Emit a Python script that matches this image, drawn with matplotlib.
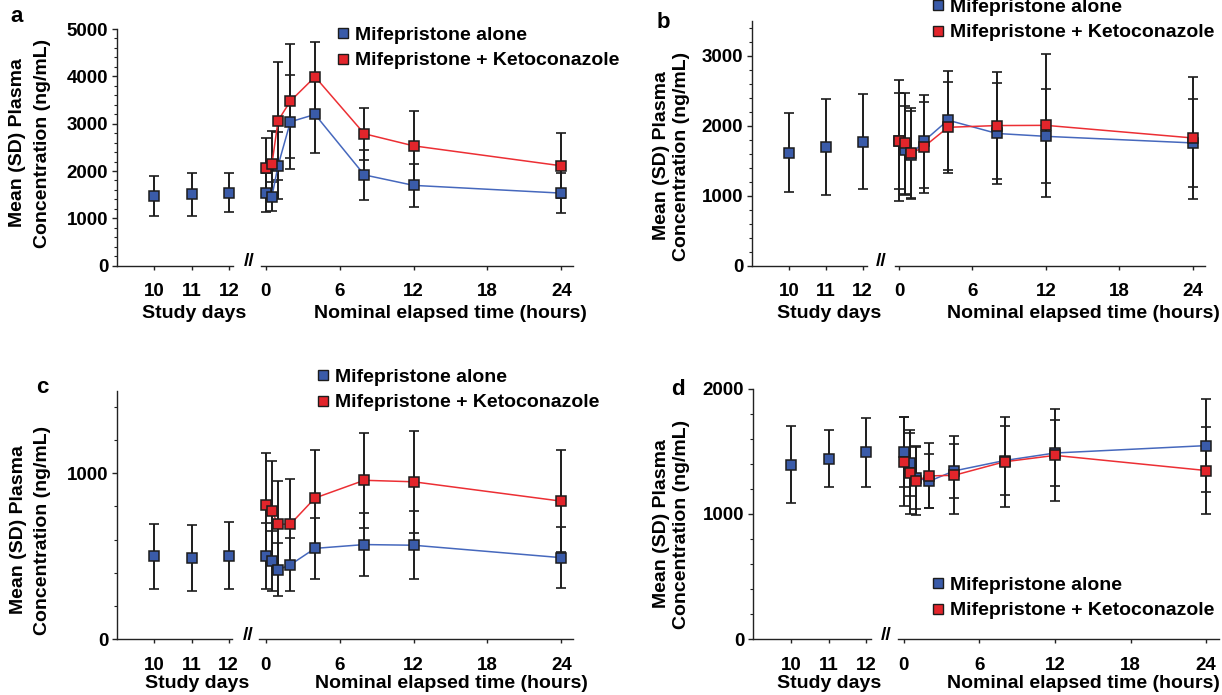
import matplotlib
matplotlib.use('Agg')
import matplotlib.pyplot as plt
from matplotlib.lines import Line2D
from matplotlib.ticker import MultipleLocator

plt.rcParams['font.family'] = ['Liberation Sans', 'DejaVu Sans']
plt.rcParams['font.weight'] = 'bold'

W, H = 1222, 695

# ---------------- data ----------------
study_days = [10, 11, 12]
hours = [0, 0.5, 1, 2, 4, 8, 12, 24]
day_ticks = [10, 11, 12]
hour_ticks = [0, 6, 12, 18, 24]
series_labels = ['Mifepristone alone', 'Mifepristone + Ketoconazole']
panel_letters = ['a', 'b', 'c', 'd']
ylabel_lines = ['Mean (SD) Plasma', 'Concentration (ng/mL)']
xlabel_days = 'Study days'
xlabel_hours = 'Nominal elapsed time (hours)'

# panel a
a_days_mean = [1480, 1505, 1545]
a_days_sd = [425, 445, 405]
a_alone_mean = [1545, 1460, 2115, 3040, 3195, 1918, 1697, 1533]
a_alone_sd = [410, 300, 700, 990, 810, 535, 458, 430]
a_keto_mean = [2070, 2140, 3065, 3477, 3990, 2787, 2532, 2110]
a_keto_sd = [625, 695, 1245, 1210, 730, 552, 740, 690]
a_yticks = [0, 1000, 2000, 3000, 4000, 5000]

# panel b
b_days_mean = [1616, 1692, 1773]
b_days_sd = [560, 685, 680]
b_alone_mean = [1781, 1651, 1585, 1775, 2079, 1889, 1848, 1754]
b_alone_sd = [685, 635, 620, 660, 705, 715, 670, 630]
b_keto_mean = [1788, 1747, 1608, 1694, 1977, 2002, 2005, 1825]
b_keto_sd = [865, 720, 650, 650, 650, 760, 1025, 870]
b_yticks = [0, 1000, 2000, 3000]

# panel c
c_days_mean = [499, 491, 503]
c_days_sd = [195, 200, 202]
c_alone_mean = [503, 469, 418, 448, 547, 570, 566, 491]
c_alone_sd = [200, 180, 161, 160, 183, 190, 206, 186]
c_keto_mean = [810, 770, 693, 693, 851, 958, 949, 832]
c_keto_sd = [311, 307, 261, 271, 290, 288, 308, 307]
c_yticks = [0, 1000]

# panel d
d_days_mean = [1391, 1439, 1490]
d_days_sd = [307, 227, 275]
d_alone_mean = [1490, 1404, 1289, 1259, 1342, 1425, 1485, 1544]
d_alone_sd = [280, 265, 250, 215, 215, 275, 267, 370]
d_keto_mean = [1417, 1323, 1264, 1302, 1307, 1415, 1466, 1345]
d_keto_sd = [357, 325, 270, 260, 310, 360, 367, 347]
d_yticks = [0, 1000, 2000]

# ---------------- style ----------------
BLUE = '#3a5ba9'
BLUE_LINE = '#4668bd'
RED = '#e3252b'
RED_LINE = '#ec2f34'
EDGE = '#1c1c1c'
AXC = '#222222'
FS = 14
TFS = 13.5

fig = plt.figure(figsize=(W / 100, H / 100), dpi=100)


def px_axes(x0, x1, ytop, ybot):
    return fig.add_axes([x0 / W, 1 - ybot / H, (x1 - x0) / W, (ybot - ytop) / H])


def ftext(x, y, s, **kw):
    return fig.text(x / W, 1 - y / H, s, **kw)


def draw_series(ax, x, mean, sd, face, line_color, connect, z):
    ax.errorbar(x, mean, yerr=sd, fmt='none', ecolor=EDGE, elinewidth=1.4,
                capsize=3.4, capthick=1.2, zorder=2, clip_on=False)
    if connect:
        ax.plot(x, mean, '-', color=line_color, lw=1.1, zorder=3, clip_on=False)
    ax.plot(x, mean, 's', mfc=face, mec=EDGE, ms=6.8, mew=1.1, zorder=z,
            clip_on=False, ls='none')


def panel(L, R, ytop, ybot, ylim, yticks, xlimL, xlimR,
          days_mean, days_sd, alone_mean, alone_sd, keto_mean, keto_sd):
    axL = px_axes(L[0], L[1], ytop, ybot)
    axR = px_axes(R[0], R[1], ytop, ybot)
    for ax in (axL, axR):
        ax.set_ylim(*ylim)
        ax.patch.set_alpha(0)
        for s in ('top', 'right'):
            ax.spines[s].set_visible(False)
        for s in ('left', 'bottom'):
            ax.spines[s].set_linewidth(1.0)
            ax.spines[s].set_color(AXC)
        ax.tick_params(axis='x', which='major', direction='out', length=3.2,
                       width=1.0, color=AXC, labelsize=TFS, pad=9.5)
    axR.spines['left'].set_visible(False)
    axR.tick_params(axis='y', which='both', left=False, labelleft=False)
    axL.set_yticks(yticks)
    axL.yaxis.set_minor_locator(MultipleLocator(200))
    axL.tick_params(axis='y', which='major', direction='out', length=3.5,
                    width=1.0, color=AXC, labelsize=TFS, pad=3)
    axL.tick_params(axis='y', which='minor', direction='out', length=2.0,
                    width=0.8, color=AXC)
    axL.set_xticks(day_ticks)
    axL.set_xlim(*xlimL)
    axR.set_xticks(hour_ticks)
    axR.set_xlim(*xlimR)

    draw_series(axL, study_days, days_mean, days_sd, BLUE, BLUE_LINE, False, 4)
    draw_series(axR, hours, alone_mean, alone_sd, BLUE, BLUE_LINE, True, 4)
    draw_series(axR, hours, keto_mean, keto_sd, RED, RED_LINE, True, 5)
    return axL, axR


def legend(x, y):
    handles = [Line2D([], [], marker='s', ls='none', mfc=BLUE, mec=EDGE, ms=7, mew=1),
               Line2D([], [], marker='s', ls='none', mfc=RED, mec=EDGE, ms=7, mew=1)]
    fig.legend(handles, series_labels, loc='upper left',
               bbox_to_anchor=(x / W, 1 - y / H), frameon=False, fontsize=FS,
               handlelength=0.5, handletextpad=0.35, labelspacing=0.42,
               borderpad=0, borderaxespad=0)


def decorations(letter, lx, ly, yl1x, yl2x, yly, days_x, hours_x, xl_y, brk_x, brk_y):
    ftext(lx, ly, letter, fontsize=16, ha='left', va='baseline')
    ftext(yl1x, yly, ylabel_lines[0], fontsize=FS, rotation=90, ha='center', va='center')
    ftext(yl2x, yly, ylabel_lines[1], fontsize=FS, rotation=90, ha='center', va='center')
    ftext(days_x, xl_y, xlabel_days, fontsize=FS, ha='center', va='center')
    ftext(hours_x, xl_y, xlabel_hours, fontsize=FS, ha='center', va='center')
    ftext(brk_x, brk_y, '//', fontsize=FS, ha='center', va='center')


# panel a
panel((117.3, 233.3), (260.7, 573.3), 29, 265.7, (0, 5000), a_yticks,
      (9.0, 12.12), (-0.41, 24.97),
      a_days_mean, a_days_sd, a_alone_mean, a_alone_sd, a_keto_mean, a_keto_sd)
legend(338, 26)
decorations(panel_letters[0], 10, 22, 18, 42.5, 143, 194, 450.7, 314, 249.5, 262)

# panel b
panel((752.3, 866.7), (895, 1205), 20.7, 265.7, (0, 3500), b_yticks,
      (8.99, 12.11), (-0.33, 25.0),
      b_days_mean, b_days_sd, b_alone_mean, b_alone_sd, b_keto_mean, b_keto_sd)
legend(933, -2)
decorations(panel_letters[1], 657, 28, 662, 681.5, 156, 829.6, 1083, 314, 881, 262)

# panel c
panel((117.3, 231.7), (259.3, 573.3), 390.5, 639, (0, 1500), c_yticks,
      (9.0, 12.08), (-0.52, 24.97),
      c_days_mean, c_days_sd, c_alone_mean, c_alone_sd, c_keto_mean, c_keto_sd)
legend(318, 368)
decorations(panel_letters[2], 36, 393, 18.6, 42.4, 530, 196.7, 451, 684, 248, 636)

# panel d
panel((753.3, 871), (898.3, 1218.8), 388.5, 639, (0, 2000), d_yticks,
      (8.995, 12.13), (-0.43, 25.0),
      d_days_mean, d_days_sd, d_alone_mean, d_alone_sd, d_keto_mean, d_keto_sd)
legend(933, 576)
decorations(panel_letters[3], 671, 395, 661, 681.5, 524, 829.6, 1083, 684, 886, 636)

fig.savefig('out.png', dpi=100)
